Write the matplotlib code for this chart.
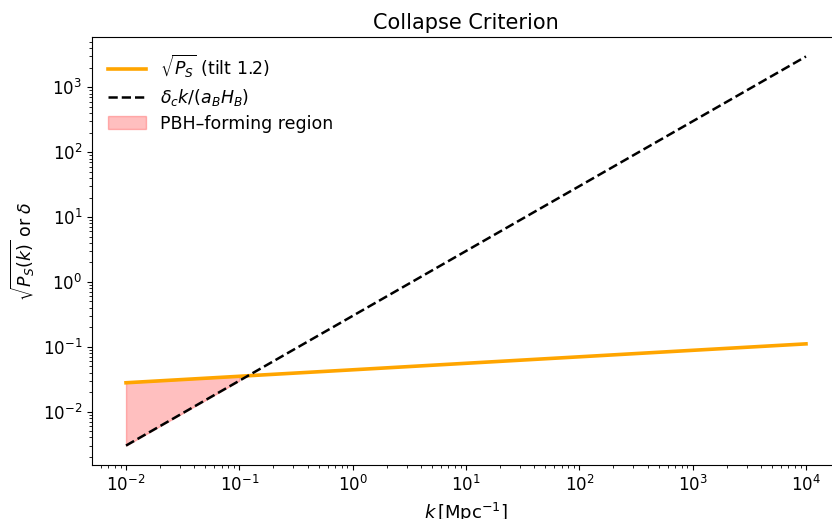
import matplotlib
matplotlib.use("Agg")
import matplotlib.pyplot as plt
import numpy as np

# wavenumbers (Mpc^-1), including the crossing point
k = np.array([1e-2, 1e-1, 0.12, 1e0, 1e1, 1e2, 1e3, 1e4])
# sqrt(P_S) for tilt 1.2
sqrt_ps = np.array([0.0279, 0.0351, 0.0358, 0.0442, 0.0557, 0.0701, 0.0883, 0.111])
# collapse threshold delta_c k / (a_B H_B)
thresh = np.array([0.003, 0.03, 0.036, 0.3, 3.0, 30.0, 300.0, 3000.0])

fig = plt.figure(figsize=(8.32, 5.19), dpi=100)
ax = fig.add_axes([0.1106, 0.104, 0.899, 0.8247])

ax.loglog(k, sqrt_ps, color='orange', lw=2.6, label=r'$\sqrt{P_S}$ (tilt 1.2)')
ax.loglog(k, thresh, 'k--', lw=1.8, label=r'$\delta_c k/(a_B H_B)$')
ax.fill_between(k, thresh, sqrt_ps, where=sqrt_ps >= thresh,
                color='red', alpha=0.25, label='PBH–forming region')

ax.set_xlabel(r'$k\,[\mathrm{Mpc}^{-1}]$', fontsize=13)
ax.set_ylabel(r'$\sqrt{P_S(k)}$ or $\delta$', fontsize=12.5)
ax.set_title('Collapse Criterion', fontsize=15)
ax.tick_params(labelsize=12)
ax.legend(loc='upper left', frameon=False, fontsize=12.5, labelspacing=0.4,
          handlelength=2.2)

fig.savefig('out.png', dpi=100)
